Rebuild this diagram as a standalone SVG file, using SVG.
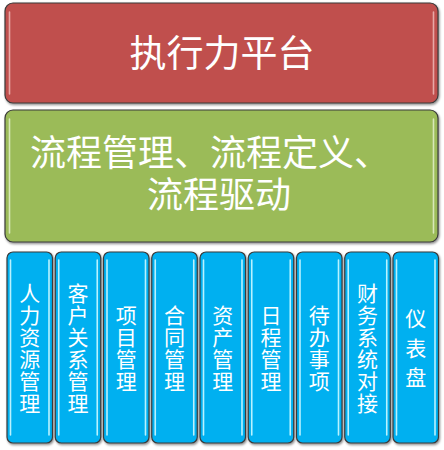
<svg xmlns="http://www.w3.org/2000/svg" width="444" height="450" viewBox="0 0 444 450">
<style>
  .box { stroke: #3a3a3a; stroke-width: 1.2; filter: url(#sh); }
  .red { fill: #C0504D; }
  .green { fill: #9BBB59; }
  .blue { fill: #00B0F0; }
  .hl { fill: none; stroke-width: 1.6; stroke-linecap: round; }
  .hlr { stroke: #E8A8A6; }
  .hlg { stroke: #D8E8B8; }
  .hlb { stroke: #B8F2FF; }
  text { fill: #FFFFFF; font-family: "Noto Sans CJK SC", "Noto Sans", sans-serif; }
  .big { font-size: 37px; }
  .mid { font-size: 36px; }
  .v { font-size: 21px; text-anchor: middle; writing-mode: vertical-rl; letter-spacing: 1px; }
  .v3 { letter-spacing: 8.5px; }
</style>
<defs>
  <filter id="sh" x="-10%" y="-10%" width="130%" height="130%">
    <feDropShadow dx="1" dy="1.5" stdDeviation="1.2" flood-color="#000" flood-opacity="0.45"/>
  </filter>
</defs>
<rect width="444" height="450" fill="#FFFFFF"/>

<g id="node-platform">
  <rect class="box red" x="5" y="3" width="433" height="100" rx="8"/>
  <path class="hl hlr" d="M9.5 12 V94 M433.5 12 V94"/>
  <text class="big" x="222" y="67" text-anchor="middle">执行力平台</text>
</g>

<g id="node-process">
  <rect class="box green" x="5" y="110" width="433" height="132" rx="8"/>
  <path class="hl hlg" d="M9.5 119 V233 M433.5 119 V233"/>
  <text class="mid"><tspan x="30" y="166">流程管理、流程定义、</tspan><tspan x="147" y="208">流程驱动</tspan></text>
</g>

<g id="node-hr">
  <rect class="box blue" x="7" y="252" width="45.5" height="191" rx="6"/>
  <path class="hl hlb" d="M10.5 260 V435 M49 260 V435"/>
  <text class="v" x="29.75" y="348.5">人力资源管理</text>
</g>

<g id="node-crm">
  <rect class="box blue" x="55.25" y="252" width="45.5" height="191" rx="6"/>
  <path class="hl hlb" d="M58.75 260 V435 M97.25 260 V435"/>
  <text class="v" x="78" y="348.5">客户关系管理</text>
</g>

<g id="node-project">
  <rect class="box blue" x="103.5" y="252" width="45.5" height="191" rx="6"/>
  <path class="hl hlb" d="M107 260 V435 M145.5 260 V435"/>
  <text class="v" x="126.25" y="348.5">项目管理</text>
</g>

<g id="node-contract">
  <rect class="box blue" x="151.75" y="252" width="45.5" height="191" rx="6"/>
  <path class="hl hlb" d="M155.25 260 V435 M193.75 260 V435"/>
  <text class="v" x="174.5" y="348.5">合同管理</text>
</g>

<g id="node-asset">
  <rect class="box blue" x="200" y="252" width="45.5" height="191" rx="6"/>
  <path class="hl hlb" d="M203.5 260 V435 M242 260 V435"/>
  <text class="v" x="222.75" y="348.5">资产管理</text>
</g>

<g id="node-schedule">
  <rect class="box blue" x="248.25" y="252" width="45.5" height="191" rx="6"/>
  <path class="hl hlb" d="M251.75 260 V435 M290.25 260 V435"/>
  <text class="v" x="271" y="348.5">日程管理</text>
</g>

<g id="node-todo">
  <rect class="box blue" x="296.5" y="252" width="45.5" height="191" rx="6"/>
  <path class="hl hlb" d="M300 260 V435 M338.5 260 V435"/>
  <text class="v" x="319.25" y="348.5">待办事项</text>
</g>

<g id="node-finance">
  <rect class="box blue" x="344.75" y="252" width="45.5" height="191" rx="6"/>
  <path class="hl hlb" d="M348.25 260 V435 M386.75 260 V435"/>
  <text class="v" x="367.5" y="348.5">财务系统对接</text>
</g>

<g id="node-dashboard">
  <rect class="box blue" x="393" y="252" width="45.5" height="191" rx="6"/>
  <path class="hl hlb" d="M396.5 260 V435 M435 260 V435"/>
  <text class="v v3" x="415.75" y="352">仪表盘</text>
</g>

<g id="connectors"></g>
</svg>
